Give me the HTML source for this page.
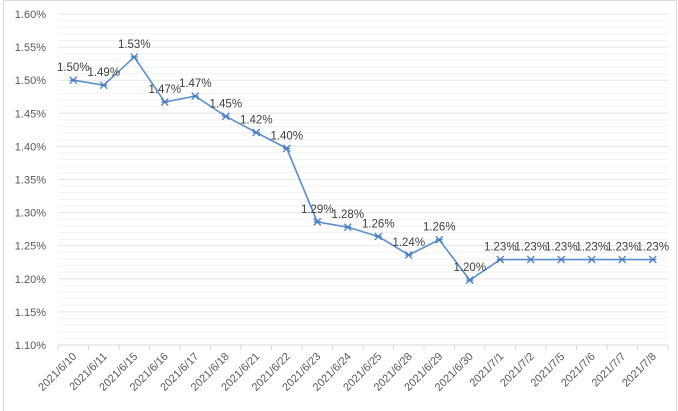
<!DOCTYPE html>
<html><head><meta charset="utf-8"><style>
html,body{margin:0;padding:0;background:#fff;}
svg{display:block;font-family:"Liberation Sans",sans-serif;}
</style></head><body>
<svg id="chart" width="678" height="411" viewBox="0 0 678 411">
<rect x="3.5" y="0.5" width="673" height="420" fill="#fff" stroke="#d9d9d9"/>
<g id="grid"></g><g id="yaxis"></g><g id="xaxis"></g><g id="series"></g><g id="labels"></g>
</svg>
<script>
const categories=["2021/6/10","2021/6/11","2021/6/15","2021/6/16","2021/6/17","2021/6/18","2021/6/21","2021/6/22","2021/6/23","2021/6/24","2021/6/25","2021/6/28","2021/6/29","2021/6/30","2021/7/1","2021/7/2","2021/7/5","2021/7/6","2021/7/7","2021/7/8"];
const values=[1.500,1.4925,1.535,1.467,1.476,1.4455,1.421,1.397,1.286,1.278,1.264,1.236,1.259,1.198,1.229,1.229,1.229,1.229,1.229,1.229];
const valueLabels=["1.50%","1.49%","1.53%","1.47%","1.47%","1.45%","1.42%","1.40%","1.29%","1.28%","1.26%","1.24%","1.26%","1.20%","1.23%","1.23%","1.23%","1.23%","1.23%","1.23%"];
const yTicks=[1.10,1.15,1.20,1.25,1.30,1.35,1.40,1.45,1.50,1.55,1.60];
const ns="http://www.w3.org/2000/svg";
const L=58,R=668,T=14,B=345,yMin=1.10,yMax=1.60;
const step=(R-L)/categories.length;
const x=i=>L+step*(i+0.5);
const y=v=>B-(v-yMin)/(yMax-yMin)*(B-T);
function mk(tag,attrs,parent,text){const e=document.createElementNS(ns,tag);for(const k in attrs)e.setAttribute(k,attrs[k]);if(text!==undefined)e.textContent=text;document.getElementById(parent).appendChild(e);return e;}
for(let k=0;k<=50;k++){const v=yMin+k*0.01;if(k%5===0)continue;
const g=mk('line',{x1:L,x2:R,y1:y(v),y2:y(v),stroke:'#f2f2f2','stroke-width':1},'grid');

}
yTicks.forEach(v=>{
const g=mk('line',{x1:L,x2:R,y1:y(v),y2:y(v),stroke:v===yMin?'#d9d9d9':'#e6e6e6','stroke-width':1},'grid');


const t=mk('text',{x:L-12,y:y(v)+4,'text-anchor':'end','font-size':11,fill:'#595959'},'yaxis',v.toFixed(2)+'%');

});
for(let i=0;i<=categories.length;i++){const tk=mk('line',{x1:L+step*i,x2:L+step*i,y1:B,y2:B+5,stroke:'#d9d9d9'},'xaxis');

}
categories.forEach((c,i)=>{const t=mk('text',{x:x(i)+4,y:B+12,'text-anchor':'end','font-size':11,fill:'#595959',transform:`rotate(-45 ${x(i)+4} ${B+12})`},'xaxis',c);

});
const pl=mk('polyline',{points:values.map((v,i)=>x(i)+','+y(v)).join(' '),fill:'none',stroke:'#5b8fd0','stroke-width':1.6},'series');


values.forEach((v,i)=>{const cx=x(i),cy=y(v);
const m=mk('path',{d:`M${cx-3.5} ${cy-3.5}L${cx+3.5} ${cy+3.5}M${cx+3.5} ${cy-3.5}L${cx-3.5} ${cy+3.5}M${cx-3.5} ${cy}L${cx+3.5} ${cy}`,stroke:'#4a7fc4','stroke-width':1.3},'series');


const t=mk('text',{x:cx,y:cy-9,'text-anchor':'middle','font-size':11.5,fill:'#404040'},'labels',valueLabels[i]);

});
</script>
</body></html>
